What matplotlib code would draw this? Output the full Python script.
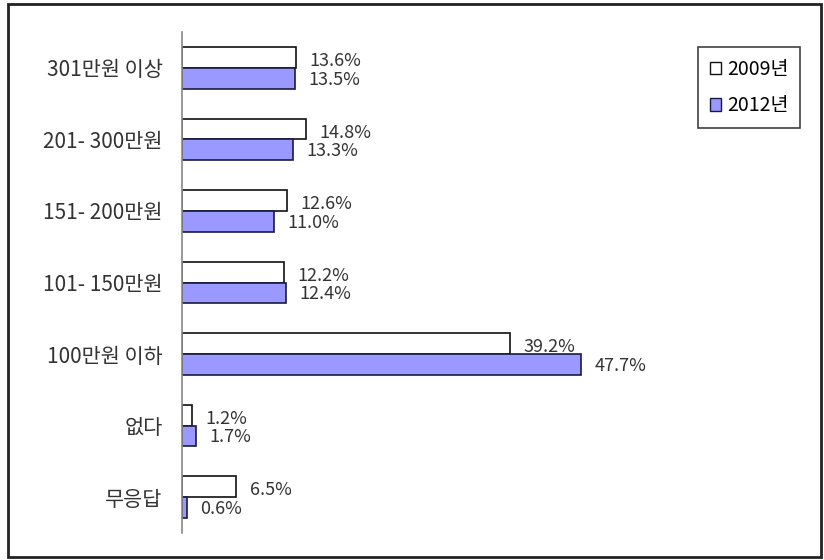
import numpy as np
import matplotlib
matplotlib.use("Agg")
import matplotlib.pyplot as plt
from matplotlib.patches import Rectangle, Patch

plt.rcParams['font.family'] = ['Noto Sans CJK KR', 'DejaVu Sans']

categories = ['301만원 이상', '201- 300만원', '151- 200만원', '101- 150만원',
              '100만원 이하', '없다', '무응답']
y2009 = [13.6, 14.8, 12.6, 12.2, 39.2, 1.2, 6.5]
y2012 = [13.5, 13.3, 11.0, 12.4, 47.7, 1.7, 0.6]
series_names = ['2009년', '2012년']

W, H = 824, 560
fig = plt.figure(figsize=(W / 100, H / 100), dpi=100)

# outer frame round the whole chart
fig.patches.append(Rectangle((8 / W, 3 / H), 813 / W, 553 / H, transform=fig.transFigure,
                             fill=False, edgecolor='#222222', linewidth=2))

ax = fig.add_axes([182 / W, 27 / H, (700 - 182) / W, (533 - 32) / H])

n = len(categories)
pos = np.arange(n)
h = 0.29
col12 = '#9999ff'

ax.barh(pos - h / 2, y2009, height=h, color='white', edgecolor='#111111', linewidth=1.2)
ax.barh(pos + h / 2, y2012, height=h, color=col12, edgecolor='#1a1a40', linewidth=1.2)

for i in range(n):
    ax.text(y2009[i] + 1.6, pos[i] - h / 2 + 0.05, f'{y2009[i]:.1f}%', va='center', ha='left',
            fontsize=13, color='#333333')
    ax.text(y2012[i] + 1.6, pos[i] + h / 2 + 0.02, f'{y2012[i]:.1f}%', va='center', ha='left',
            fontsize=13, color='#333333')

ax.set_xlim(0, (700 - 182) / 8.365)
ax.set_ylim(n - 0.5, -0.5)
ax.set_yticks(pos)
ax.set_yticklabels(categories, fontsize=15, color='#333333')
ax.tick_params(axis='y', length=0, pad=14)
ax.set_xticks([])
for s in ['top', 'right', 'bottom']:
    ax.spines[s].set_visible(False)
ax.spines['left'].set_color('#888888')
ax.spines['left'].set_linewidth(1.2)

handles = [Patch(facecolor='white', edgecolor='#111111'),
           Patch(facecolor=col12, edgecolor='#1a1a40')]
leg = fig.legend(handles, series_names, loc='upper left',
                 bbox_to_anchor=(698 / W, 1 - 47 / H), borderaxespad=0, fontsize=14,
                 handlelength=0.6, handleheight=0.6, handletextpad=0.3,
                 labelspacing=0.8, borderpad=0.6, fancybox=False, frameon=True)
leg.get_frame().set_edgecolor('#111111')
leg.get_frame().set_linewidth(1.2)

fig.savefig('out.png', dpi=100)
